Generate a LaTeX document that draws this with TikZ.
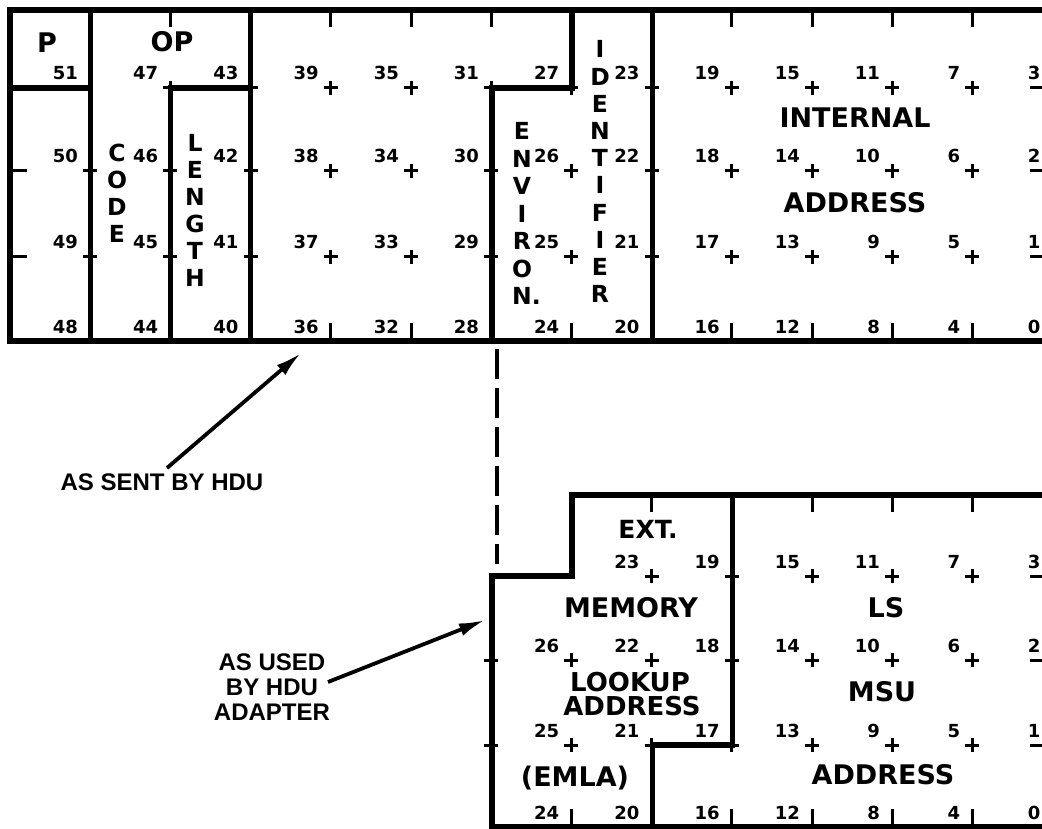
\documentclass[tikz,border=0pt]{standalone}
\usepackage{fontspec}
\newfontfamily\dv{DejaVu Sans}
\newfontfamily\lib{Liberation Sans}
\usetikzlibrary{arrows.meta}
\begin{document}
\begin{tikzpicture}[x=1pt,y=-1pt,
  thk/.style={line width=5.4pt, line cap=rect, line join=miter},
  tck/.style={line width=3pt},
  num/.style={font=\dv\bfseries\fontsize{18}{18}\selectfont, anchor=base east, inner sep=0pt},
  lbl/.style={font=\dv\bfseries\fontsize{27}{27}\selectfont, inner sep=0pt},
  vl/.style={font=\dv\bfseries\fontsize{23.5}{23.5}\selectfont, inner sep=0pt, anchor=base},
  ann/.style={font=\lib\bfseries\fontsize{24}{25}\selectfont, inner sep=0pt, align=center},
  arr/.style={line width=3.8pt, -{Latex[length=26pt,width=13pt]}},
]
\path[use as bounding box] (0,0) rectangle (1042,829);
\clip (0,0) rectangle (1042,829);
\fill[white] (0,0) rectangle (1042,829);

% ---------------- top register ----------------
% columns X_k = 10 + 80.2 k ; rows 10, 88, 171, 257, 341
\draw[thk] (1052.6,10) -- (10,10) -- (10,341) -- (1052.6,341) -- cycle;
\draw[thk] (10,88) -- (90.2,88);
\draw[thk] (90.2,10) -- (90.2,341);
\draw[thk] (170.4,341) -- (170.4,88) -- (250.6,88);
\draw[thk] (250.6,10) -- (250.6,341);
\draw[thk] (491.8,341) -- (491.8,88) -- (572,88) -- (572,10);
\draw[thk] (652.2,10) -- (652.2,341);

% top / bottom ticks
\foreach \k in {2,4,5,6,9,10,11,12}{\pgfmathsetmacro\xx{10+80.2*\k}\draw[tck] (\xx,10) -- (\xx,27);}
\foreach \k in {4,5,7,9,10,11,12}{\pgfmathsetmacro\xx{10+80.2*\k}\draw[tck] (\xx,341) -- (\xx,323);}
% side ticks
\foreach \y in {171,257}{\draw[tck] (10,\y) -- (27,\y);}
\foreach \y in {88,171,257}{\draw[tck] (1052.6,\y) -- (1030,\y);}
% crosses
\foreach \k in {1,...,12}{\foreach \y in {88,171,257}{
  \pgfmathsetmacro\xx{10+80.2*\k}
  \ifnum\k=1 \ifnum\y=88 \else \draw[tck] (\xx-7,\y) -- (\xx+7,\y) (\xx,\y-7) -- (\xx,\y+7);\fi
  \else \draw[tck] (\xx-7,\y) -- (\xx+7,\y) (\xx,\y-7) -- (\xx,\y+7);\fi}}
% bit numbers
\foreach \c in {0,...,12}{\foreach \r/\y in {0/88,1/171,2/257,3/341}{
  \pgfmathsetmacro\xx{10+80.2*(\c+1)-12}
  \pgfmathtruncatemacro\b{51-4*\c-\r}
  \node[num] (t\b) at (\xx,\y-8) {\b};}}

% field labels
\node[lbl] (lP) at (47,43) {P};
\node[lbl] (lOP) at (172,42) {OP};
\foreach \t [count=\i from 0] in {C,O,D,E}{\node[vl] (code\i) at (117,162+27*\i) {\t};}
\foreach \t [count=\i from 0] in {L,E,N,G,T,H}{\node[vl] (len\i) at (195,152+27*\i) {\t};}
\foreach \t [count=\i from 0] in {E,N,V,I,R,O,N\rlap{.}}{\node[vl] (env\i) at (522,140+27.5*\i) {\t};}
\foreach \t [count=\i from 0] in {I,D,E,N,T,I,F,I,E,R}{\node[vl] (idf\i) at (600,58+27.2*\i) {\t};}
\node[lbl] (lINT) at (855,118) {INTERNAL};
\node[lbl] (lADR) at (855,203) {ADDRESS};

% ---------------- bottom register ----------------
% rows 495, 576, 660, 745, 827
\draw[thk] (1052.6,495) -- (572,495) -- (572,576) -- (491.8,576) -- (491.8,827) -- (1052.6,827) -- cycle;
\draw[thk] (732.4,495) -- (732.4,745) -- (652.2,745) -- (652.2,827);
\foreach \k in {8,10,11,12}{\pgfmathsetmacro\xx{10+80.2*\k}\draw[tck] (\xx,495) -- (\xx,512);}
\foreach \k in {7,9,10,11,12}{\pgfmathsetmacro\xx{10+80.2*\k}\draw[tck] (\xx,827) -- (\xx,809);}
\foreach \y in {576,660,745}{\draw[tck] (1052.6,\y) -- (1030,\y);}
\foreach \k in {6,...,12}{\foreach \y in {576,660,745}{
  \pgfmathsetmacro\xx{10+80.2*\k}
  \ifnum\y=576 \ifnum\k<8 \else \draw[tck] (\xx-7,\y) -- (\xx+7,\y) (\xx,\y-7) -- (\xx,\y+7);\fi
  \else \draw[tck] (\xx-7,\y) -- (\xx+7,\y) (\xx,\y-7) -- (\xx,\y+7);\fi}}
\foreach \r/\y in {1/660,2/745,3/827}{
  \pgfmathsetmacro\xx{10+80.2*7-12}
  \pgfmathtruncatemacro\b{27-\r}
  \node[num] (u\b) at (\xx,\y-8) {\b};}
\foreach \c in {7,...,12}{\foreach \r/\y in {0/576,1/660,2/745,3/827}{
  \pgfmathsetmacro\xx{10+80.2*(\c+1)-12}
  \pgfmathtruncatemacro\b{51-4*\c-\r}
  \node[num] (u\b) at (\xx,\y-8) {\b};}}

\node[lbl, font=\dv\bfseries\fontsize{25}{25}\selectfont] (lEXT) at (648,529) {EXT.};
\node[lbl] (lMEM) at (631,608) {MEMORY};
\node[lbl, font=\dv\bfseries\fontsize{26}{26}\selectfont, anchor=base] (lLOOK) at (630,691) {LOOKUP};
\node[lbl, font=\dv\bfseries\fontsize{26}{26}\selectfont, anchor=base] (lADR2) at (632,715) {ADDRESS};
\node[lbl] (lEMLA) at (575,778) {(EMLA)};
\node[lbl] (lLS) at (886,608) {LS};
\node[lbl] (lMSU) at (882,692) {MSU};
\node[lbl] (lADR3) at (883,775) {ADDRESS};

% ---------------- annotations ----------------
\coordinate (dA) at (497,349);
\coordinate (dB) at (497,564);
\draw[line width=4.2pt, dash pattern=on 30pt off 9pt] (dA) -- (dB);

\node[ann] (sent) at (162,482) {AS SENT BY HDU};
\coordinate (sentTail) at (167,468);
\coordinate (sentTip) at (301,353);
\draw[arr] (sentTail) -- (sentTip);

\node[ann] (used) at (272,687) {AS USED\\BY HDU\\ADAPTER};
\coordinate (usedTail) at (328,682);
\coordinate (usedTip) at (485,620);
\draw[arr] (usedTail) -- (usedTip);
\end{tikzpicture}
\end{document}
